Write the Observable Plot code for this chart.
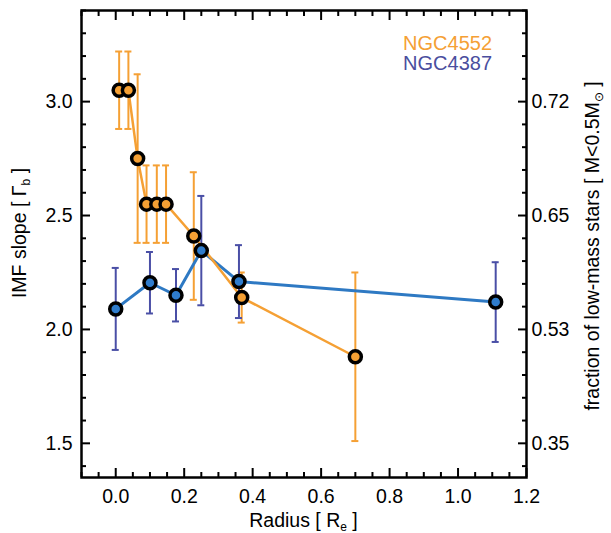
<!DOCTYPE html>
<html><head><meta charset="utf-8">
<script src="https://cdn.jsdelivr.net/npm/d3@7"></script>
<script src="https://cdn.jsdelivr.net/npm/@observablehq/plot@0.6"></script>
<style>
body{margin:0;background:#fff}
svg{font-family:"Liberation Sans",Arial,Helvetica,sans-serif}
</style>
</head><body><div id="chart"></div>
<script>
// NGC4552 (orange)
const ngc4552Radius = [0.01, 0.037, 0.064, 0.09, 0.12, 0.147, 0.228, 0.368, 0.70];
const ngc4552Slope  = [3.05, 3.05, 2.75, 2.55, 2.55, 2.55, 2.41, 2.14, 1.88];
const ngc4552Err    = [0.17, 0.17, 0.37, 0.17, 0.17, 0.17, 0.28, 0.11, 0.37];
// NGC4387 (blue)
const ngc4387Radius = [0.0, 0.10, 0.176, 0.25, 0.36, 1.11];
const ngc4387Slope  = [2.09, 2.205, 2.15, 2.346, 2.21, 2.12];
const ngc4387Err    = [0.18, 0.135, 0.115, 0.24, 0.16, 0.175];
// ticks
const xMajor = [0.0, 0.2, 0.4, 0.6, 0.8, 1.0, 1.2];
const xMinor = [-0.1,-0.05,0.05,0.1,0.15,0.25,0.3,0.35,0.45,0.5,0.55,0.65,0.7,0.75,0.85,0.9,0.95,1.05,1.1,1.15];
const yMajor = [1.5, 2.0, 2.5, 3.0];
const yMinor = [1.4,1.6,1.7,1.8,1.9,2.1,2.2,2.3,2.4,2.6,2.7,2.8,2.9,3.1,3.2,3.3,3.4];
const rightTickLabels = ["0.35", "0.53", "0.65", "0.72"];
const seriesNames = ["NGC4552", "NGC4387"];

const orange = "#f5a034", blueLine = "#2e79c3", blueErr = "#4a4fa6", blueFill = "#2f7ccc", blueText = "#4a4e9e";

const A = ngc4552Radius.map((r, i) => ({x: r, y: ngc4552Slope[i], lo: ngc4552Slope[i] - ngc4552Err[i], hi: ngc4552Slope[i] + ngc4552Err[i]}));
const B = ngc4387Radius.map((r, i) => ({x: r, y: ngc4387Slope[i], lo: ngc4387Slope[i] - ngc4387Err[i], hi: ngc4387Slope[i] + ngc4387Err[i]}));

const errMarks = (D, color) => [
  Plot.ruleX(D, {x: "x", y1: "lo", y2: "hi", stroke: color, strokeWidth: 2}),
  Plot.ruleY(D, {y: "lo", x1: "x", x2: "x", insetLeft: -3.5, insetRight: -3.5, stroke: color, strokeWidth: 2}),
  Plot.ruleY(D, {y: "hi", x1: "x", x2: "x", insetLeft: -3.5, insetRight: -3.5, stroke: color, strokeWidth: 2})
];

const plot = Plot.plot({
  width: 611, height: 533,
  marginTop: 10, marginRight: 85, marginBottom: 56, marginLeft: 81,
  x: {domain: [-0.1, 1.2]},
  y: {domain: [1.35, 3.4]},
  style: {fontFamily: '"Liberation Sans",Arial,sans-serif', fontSize: "19.5px", color: "black", background: "white"},
  marks: [
    // inward ticks
    Plot.axisX(xMajor, {anchor: "bottom", tickSize: 9, dy: -9, fill: "none", strokeWidth: 2}),
    Plot.axisX(xMinor, {anchor: "bottom", tickSize: 5, dy: -5, fill: "none", strokeWidth: 2}),
    Plot.axisX(xMajor, {anchor: "top", tickSize: 9, dy: 9, fill: "none", strokeWidth: 2}),
    Plot.axisX(xMinor, {anchor: "top", tickSize: 5, dy: 5, fill: "none", strokeWidth: 2}),
    Plot.axisY(yMajor, {anchor: "left", tickSize: 9, dx: 9, fill: "none", strokeWidth: 2}),
    Plot.axisY(yMinor, {anchor: "left", tickSize: 5, dx: 5, fill: "none", strokeWidth: 2}),
    Plot.axisY(yMajor, {anchor: "right", tickSize: 9, dx: -9, fill: "none", strokeWidth: 2}),
    Plot.axisY(yMinor, {anchor: "right", tickSize: 5, dx: -5, fill: "none", strokeWidth: 2}),
    // tick labels
    Plot.axisX(xMajor, {anchor: "bottom", tickSize: 0, tickPadding: 12, tickFormat: d => d.toFixed(1), label: null, fontSize: 19.5}),
    Plot.axisY(yMajor, {anchor: "left", tickSize: 0, tickPadding: 9, tickFormat: d => d.toFixed(1), label: null, fontSize: 19.5}),
    Plot.axisY(yMajor, {anchor: "right", tickSize: 0, tickPadding: 5, tickFormat: d => rightTickLabels[yMajor.indexOf(d)], label: null, fontSize: 19.5}),
    Plot.frame({stroke: "black", strokeWidth: 2.5}),
    // data
    ...errMarks(A, orange),
    ...errMarks(B, blueErr),
    Plot.line(B, {x: "x", y: "y", stroke: blueLine, strokeWidth: 3}),
    Plot.line(A, {x: "x", y: "y", stroke: orange, strokeWidth: 2.5}),
    Plot.dot(B, {x: "x", y: "y", r: 6, fill: blueFill, stroke: "black", strokeWidth: 3.5}),
    Plot.dot(A, {x: "x", y: "y", r: 6, fill: orange, stroke: "black", strokeWidth: 3.5})
  ]
});

const svg = d3.select(plot);
const fs = 20;
// legend
svg.append("text").attr("x", 492).attr("y", 43).attr("text-anchor", "end").attr("dominant-baseline", "central")
  .attr("font-size", fs).attr("fill", orange).text(seriesNames[0]);
svg.append("text").attr("x", 492).attr("y", 63).attr("text-anchor", "end").attr("dominant-baseline", "central")
  .attr("font-size", fs).attr("fill", blueText).text(seriesNames[1]);

// x title
const xt = svg.append("text").attr("x", 303.5).attr("y", 527).attr("text-anchor", "middle").attr("font-size", 19.5).attr("fill", "black");
xt.append("tspan").text("Radius [ R");
xt.append("tspan").attr("font-size", 12).attr("dy", 4).text("e");
xt.append("tspan").attr("dy", -4).text(" ]");

// left title
const yt = svg.append("text").attr("transform", "translate(26,233) rotate(-90)").attr("text-anchor", "middle").attr("font-size", 19.5).attr("fill", "black");
yt.append("tspan").text("IMF slope [ Γ");
yt.append("tspan").attr("font-size", 12).attr("dy", 4).text("b");
yt.append("tspan").attr("dy", -4).text(" ]");

// right title
const rt = svg.append("text").attr("transform", "translate(599,246) rotate(-90)").attr("text-anchor", "middle").attr("font-size", 19.5).attr("fill", "black");
rt.append("tspan").text("fraction of low-mass stars [ M<0.5M");
rt.append("tspan").attr("font-size", 12).attr("dy", 4).text("⊙");
rt.append("tspan").attr("dy", -4).text(" ]");

document.getElementById("chart").appendChild(plot);
</script>
</body></html>
